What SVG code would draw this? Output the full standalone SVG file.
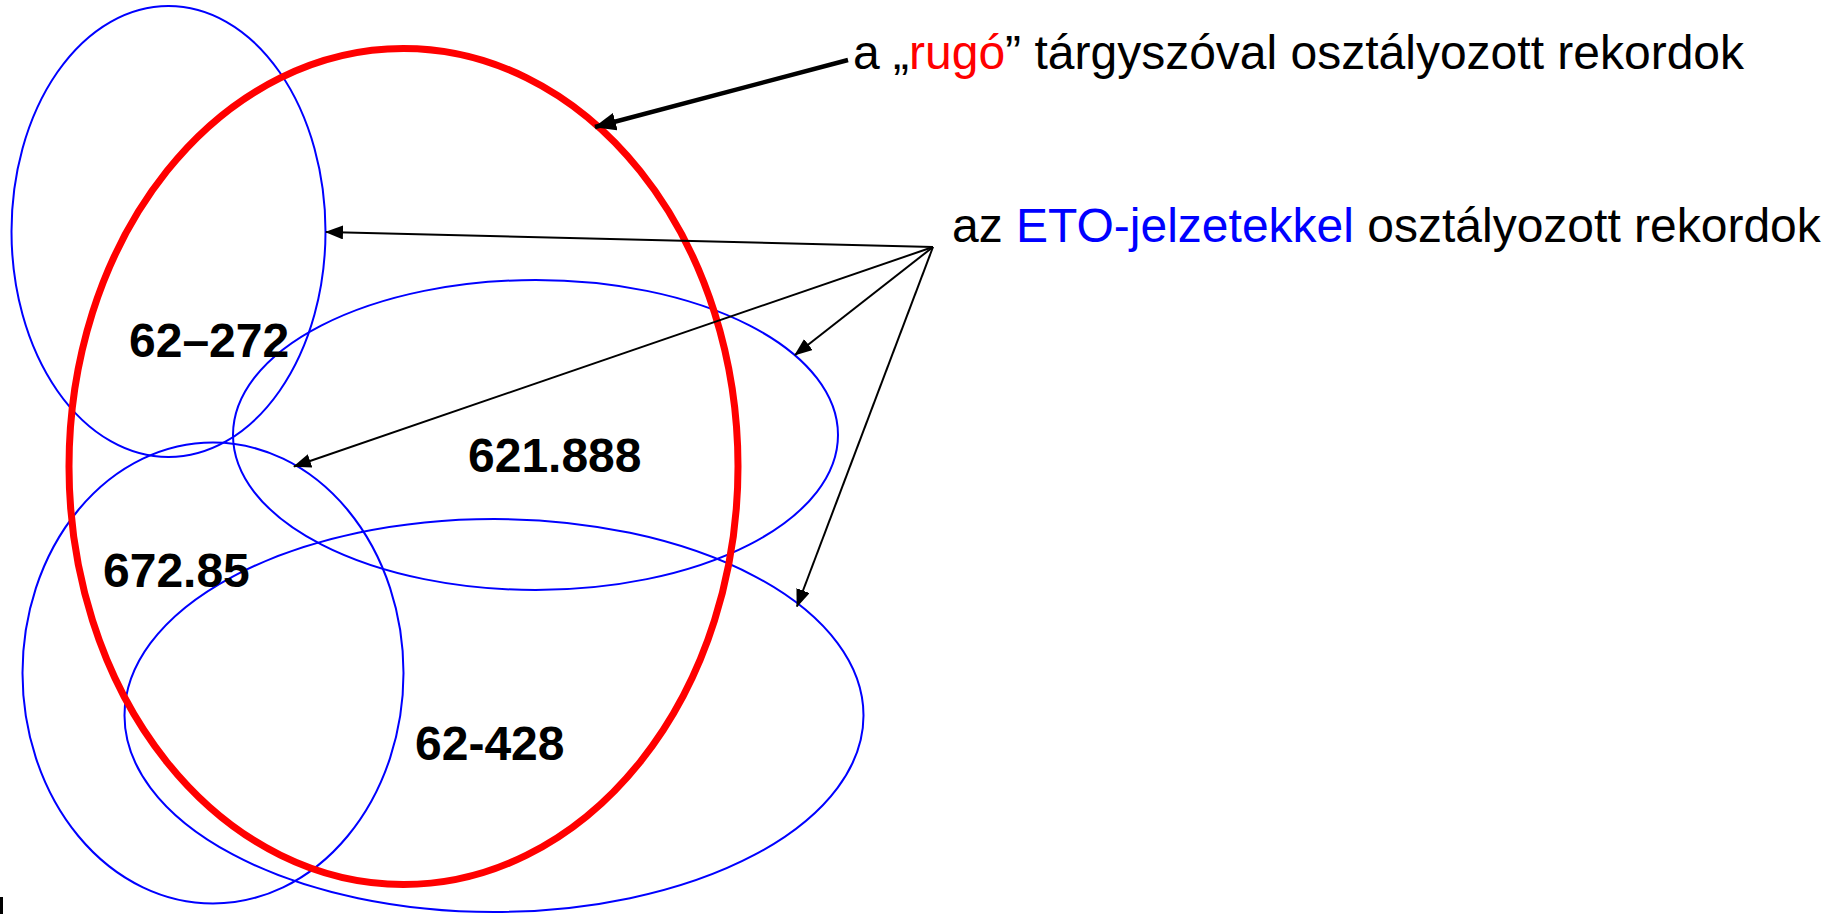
<svg xmlns="http://www.w3.org/2000/svg" width="1838" height="914" viewBox="0 0 1838 914">
<style>
.blue{fill:none;stroke:#0000ff;stroke-width:2}
.red{fill:none;stroke:#ff0000;stroke-width:7}
.con{fill:none;stroke:#000;stroke-width:2;marker-end:url(#ah)}
.thick{fill:none;stroke:#000;stroke-width:4.5;marker-end:url(#ahb)}
.lbl{font-family:"Liberation Sans",Arial,sans-serif;font-weight:bold;font-size:48px;fill:#000}
.txt{font-family:"Liberation Sans",Arial,sans-serif;font-size:48px;fill:#000}
</style>
<defs>
<marker id="ah" markerUnits="userSpaceOnUse" markerWidth="18" markerHeight="14" viewBox="0 0 18 14" refX="17" refY="7" orient="auto">
<path d="M0,0 L18,7 L0,14 Z" fill="#000"/>
</marker>
<marker id="ahb" markerUnits="userSpaceOnUse" markerWidth="22" markerHeight="18" viewBox="0 0 22 18" refX="21" refY="9" orient="auto">
<path d="M0,0 L22,9 L0,18 Z" fill="#000"/>
</marker>
</defs>
<rect width="1838" height="914" fill="#fff"/>
<g id="set-62-272"><ellipse class="blue" cx="168.5" cy="231.5" rx="157" ry="225.5"/></g>
<g id="set-621-888"><ellipse class="blue" cx="535.5" cy="435" rx="302.5" ry="155"/></g>
<g id="set-672-85"><ellipse class="blue" cx="213" cy="673" rx="190.5" ry="230.5"/></g>
<g id="set-62-428"><ellipse class="blue" cx="494" cy="715.5" rx="369.5" ry="196.5"/></g>
<g id="set-rugo"><ellipse class="red" cx="403.5" cy="466.5" rx="334.5" ry="418"/></g>
<g id="labels">
<text class="lbl" x="129" y="357">62–272</text>
<text class="lbl" x="468" y="472">621.888</text>
<text class="lbl" x="103" y="587">672.85</text>
<text class="lbl" x="415" y="760">62-428</text>
</g>
<g id="connectors">
<path class="thick" d="M848,60 L595,127"/>
<path class="con" d="M933,247 L326,232"/>
<path class="con" d="M933,247 L795,355"/>
<path class="con" d="M933,247 L294,466.5"/>
<path class="con" d="M933,247 L797,606.5"/>
</g>
<g id="caption-rugo"><text class="txt" x="853" y="69">a „<tspan fill="#ff0000">rugó</tspan>” tárgyszóval osztályozott rekordok</text></g>
<g id="caption-eto"><text class="txt" x="952" y="242">az <tspan fill="#0000ff">ETO-jelzetekkel</tspan> osztályozott rekordok</text></g>
<rect x="0" y="897" width="3" height="17" fill="#000"/>
</svg>
